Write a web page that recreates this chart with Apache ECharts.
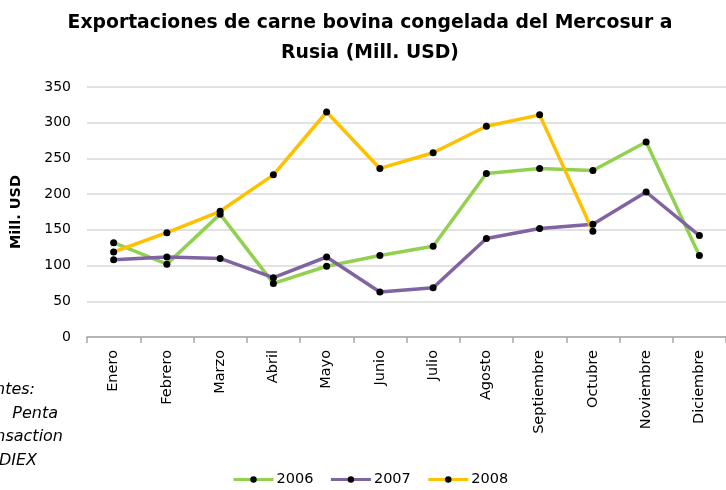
<!DOCTYPE html>
<html>
<head>
    <meta charset="utf-8">
    <title>Exportaciones carne bovina</title>
    <script src="https://cdn.jsdelivr.net/npm/echarts@6/dist/echarts.min.js"></script>
    <style>
        html, body { margin: 0; padding: 0; background: #ffffff; }
        #chart { width: 726px; height: 490px; }
    </style>
</head>
<body>
<div id="chart"></div>
<script>
    // datos (Mill. USD)
    var meses = ['Enero', 'Febrero', 'Marzo', 'Abril', 'Mayo', 'Junio', 'Julio', 'Agosto', 'Septiembre', 'Octubre', 'Noviembre', 'Diciembre'];
    var serie2006 = [132, 102, 172, 75, 99, 114, 127, 229, 236, 233, 273, 114];
    var serie2007 = [108, 112, 110, 83, 112, 63, 69, 138, 152, 158, 203, 142];
    var serie2008 = [119, 146, 176, 227, 315, 236, 258, 295, 311, 148, null, null];
    var ticksY = [0, 50, 100, 150, 200, 250, 300, 350];
    var fuentes = ['Fuentes:', 'Penta', 'Transaction', 'ADIEX'];

    var chart = echarts.init(document.getElementById('chart'));

    function serie(nombre, datos, color) {
        return {
            name: nombre,
            type: 'line',
            data: datos,
            symbol: 'circle',
            symbolSize: 7,
            itemStyle: {color: '#000000'},
            lineStyle: {color: color, width: 3.5},
            emphasis: {disabled: true},
            z: 3
        };
    }

    var option = {
        animation: false,
        title: {
            text: 'Exportaciones de carne bovina congelada del Mercosur a\nRusia (Mill. USD)',
            left: 365,
            top: 3,
            textAlign: 'center',
            textStyle: {
                fontFamily: 'DejaVu Sans',
                fontSize: 18.8,
                fontWeight: 'bold',
                color: '#000000',
                lineHeight: 30
            }
        },
        legend: {
            bottom: -2,
            left: 227,
            itemWidth: 40,
            itemHeight: 8,
            itemGap: 16,
            lineStyle: {width: 3},
            textStyle: {fontFamily: 'DejaVu Sans', fontSize: 14.5, color: '#000000', padding: [0, 0, 0, -2]},
            data: ['2006', '2007', '2008']
        },
        grid: {left: 87, right: -9, top: 87, bottom: 153},
        xAxis: {
            type: 'category',
            data: meses,
            boundaryGap: true,
            axisLine: {lineStyle: {color: '#a6a6a6', width: 1.5}},
            axisTick: {show: true, length: 6, lineStyle: {color: '#a6a6a6', width: 1.5}},
            axisLabel: {
                rotate: 90,
                margin: 13,
                fontFamily: 'DejaVu Sans',
                fontSize: 14.5,
                color: '#000000'
            }
        },
        yAxis: {
            type: 'value',
            min: ticksY[0],
            max: ticksY[ticksY.length - 1],
            interval: 50,
            name: 'Mill. USD',
            nameLocation: 'middle',
            nameRotate: 90,
            nameGap: 63,
            nameTextStyle: {fontFamily: 'DejaVu Sans', fontSize: 14.5, fontWeight: 'bold', color: '#000000'},
            axisLine: {show: false},
            axisTick: {show: false},
            axisLabel: {
                margin: 16,
                fontFamily: 'DejaVu Sans',
                fontSize: 14,
                color: '#000000'
            },
            splitLine: {lineStyle: {color: '#d9d9d9', width: 1.5}}
        },
        graphic: fuentes.map(function (t, i) {
            var fin = [35, 58, 63, 37];
            return {
                type: 'text',
                right: 726 - fin[i],
                top: 382 + i * 23.5,
                style: {
                    text: t,
                    fontFamily: 'DejaVu Sans',
                    fontStyle: 'italic',
                    fontSize: 16,
                    fill: '#000000'
                }
            };
        }),
        series: [
            serie('2006', serie2006, '#92d050'),
            serie('2007', serie2007, '#8064a2'),
            serie('2008', serie2008, '#ffc000')
        ]
    };

    chart.setOption(option);

    window.onresize = function () {
        chart.resize();
    };
</script>
</body>
</html>
